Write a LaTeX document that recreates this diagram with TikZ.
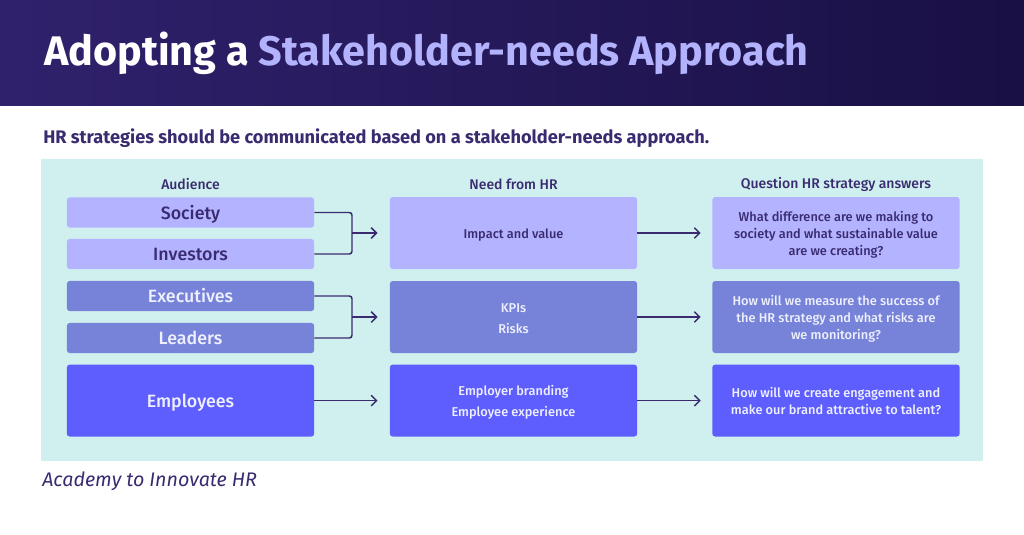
\documentclass[tikz,border=0pt]{standalone}
\usepackage{fontspec}
\setmainfont{Fira Sans}
\newfontfamily\medfont{Fira Sans Medium}
\usetikzlibrary{arrows.meta}

\definecolor{inkdark}{HTML}{3A2B70}
\definecolor{headleft}{HTML}{30216C}
\definecolor{headmid}{HTML}{1E1450}
\definecolor{headright}{HTML}{191045}
\definecolor{accent}{HTML}{B3B2FD}
\definecolor{panelbg}{HTML}{CFF0EE}
\definecolor{rowa}{HTML}{B3B3FF}
\definecolor{rowb}{HTML}{7683D8}
\definecolor{rowc}{HTML}{5E5EFF}
\definecolor{paletext}{HTML}{EEF0FF}

\tikzset{
    >={Straight Barb[length=4pt,width=8pt]},
    lift/.style={text height=#1, text depth=0pt},
    colbox/.style={rounded corners=2.2pt, minimum width=185.5pt, align=center, inner sep=0pt},
    tall/.style={colbox, minimum height=54pt},
    slim/.style={colbox, minimum height=22.6pt},
    rowone/.style={fill=rowa, text=inkdark},
    rowtwo/.style={fill=rowb, text=paletext},
    rowthree/.style={fill=rowc, text=paletext},
    big/.style={font=\fontsize{13.35}{16}\medfont, lift=10pt},
    small/.style={font=\fontsize{9.6}{12.8}\medfont},
    twoline/.style={font=\fontsize{9.6}{15.8}\medfont, lift=24.2pt},
    colhead/.style={font=\fontsize{10.5}{12}\medfont, text=inkdark},
    wire/.style={draw=inkdark, line width=1.1pt, rounded corners=2pt}
}

\begin{document}
\begin{tikzpicture}[x=0.75pt,y=-0.75pt]
    \useasboundingbox (0,0) rectangle (1024,535);
    \fill[white] (0,0) rectangle (1024,535);

    \shade[left color=headleft, middle color=headmid, right color=headright] (0,0) rectangle (1024,105.7);
    \fill[panelbg] (41,159) rectangle (983,461);

    \node[anchor=base west, inner sep=0pt, text=white, font=\fontsize{31}{34}\selectfont\bfseries] (title) at (44,65)
        {Adopting a \textcolor{accent}{Stakeholder-needs Approach}};
    \node[anchor=base west, inner sep=0pt, text=inkdark, font=\fontsize{13.65}{16}\selectfont\bfseries] (lead) at (43,143.5)
        {HR strategies should be communicated based on a stakeholder-needs approach.};
    \node[anchor=base west, inner sep=0pt, text=inkdark, font=\fontsize{14.75}{16}\selectfont\itshape] (source) at (42,486)
        {Academy to Innovate HR};

    \node[colhead] (audhead) at (190.5,184.5) {Audience};
    \node[colhead] (needhead) at (513.5,184.5) {Need from HR};
    \node[colhead] (askhead) at (836,184.5) {Question HR strategy answers};

    \node[slim, rowone, big] (society) at (190.5,212.5) {Society};
    \node[slim, rowone, big] (investors) at (190.5,254) {Investors};
    \node[slim, rowtwo, big] (executives) at (190.5,296) {Executives};
    \node[slim, rowtwo, big] (leaders) at (190.5,338) {Leaders};
    \node[tall, rowthree, big] (employees) at (190.5,400.6) {Employees};

    \node[tall, rowone, small, lift=8.5pt] (impact) at (513.5,233) {Impact and value};
    \node[tall, rowtwo, twoline] (kpis) at (513.5,317) {KPIs\\Risks};
    \node[tall, rowthree, twoline] (branding) at (513.5,400.6) {Employer branding\\Employee experience};

    \node[tall, rowone, small, lift=33.2pt] (askone) at (836,233) {What difference are we making to\\society and what sustainable value\\are we creating?};
    \node[tall, rowtwo, small, lift=33.2pt] (asktwo) at (836,317) {How will we measure the success of\\the HR strategy and what risks are\\we monitoring?};
    \node[tall, rowthree, small, lift=20.6pt] (askthree) at (836,400.6) {How will we create engagement and\\make our brand attractive to talent?};

    \coordinate (joinone) at (352,233);
    \coordinate (jointwo) at (352,317);

    \draw[wire] (society.east) -| (joinone) |- (investors.east);
    \draw[wire] (executives.east) -| (jointwo) |- (leaders.east);

    \draw[wire,->,shorten >=9pt] (joinone) -- (impact.west);
    \draw[wire,->,shorten >=9pt] (jointwo) -- (kpis.west);
    \draw[wire,->,shorten >=9pt] (employees.east) -- (branding.west);

    \draw[wire,->,shorten >=8.5pt] (impact.east) -- (askone.west);
    \draw[wire,->,shorten >=8.5pt] (kpis.east) -- (asktwo.west);
    \draw[wire,->,shorten >=8.5pt] (branding.east) -- (askthree.west);
\end{tikzpicture}
\end{document}
